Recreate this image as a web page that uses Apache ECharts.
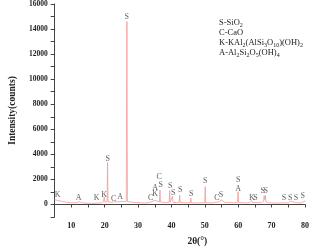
<!DOCTYPE html>
<html>
<head>
<meta charset="utf-8">
<script src="https://cdn.jsdelivr.net/npm/echarts@6/dist/echarts.min.js"></script>
<style>
html,body{margin:0;padding:0;background:#fff}
#chart{width:312px;height:252px}
</style>
</head>
<body>
<div id="chart"></div>
<script>
// diffraction pattern
const twoTheta = [5.0,5.5,6.0,6.5,7.0,8.0,9.0,10.0,11.0,11.8,12.4,13.0,14.0,15.0,16.0,17.0,18.0,19.0,19.6,19.85,
  20.05,20.7,20.85,21.0,22.0,23.0,23.5,24.3,24.9,25.5,26.45,26.64,26.8,27.6,28.0,29.0,29.4,30.0,31.0,32.0,
  33.0,34.0,34.5,35.0,35.5,36.4,36.55,36.7,38.0,39.3,39.47,39.6,40.15,40.3,40.45,41.5,42.3,42.45,42.6,44.0,
  45.65,45.8,45.95,47.5,49.95,50.1,50.25,52.0,53.5,54.0,54.5,54.87,55.3,56.0,57.3,58.5,59.8,59.95,60.1,61.5,
  62.5,63.5,64.0,64.3,65.0,65.5,66.0,67.0,67.6,67.75,67.95,68.15,68.3,69.0,70.5,72.0,73.0,73.45,73.7,75.0,
  75.6,75.9,77.2,77.6,77.9,79.0,79.9,80.0]
const intensity = [380,350,320,290,260,210,170,140,130,150,230,150,110,100,90,90,110,140,220,600,
  200,220,3350,220,170,220,180,200,260,220,250,14600,250,200,170,160,200,150,130,120,
  130,220,180,330,220,200,1150,200,150,180,1100,180,180,650,170,150,180,740,170,130,
  140,500,140,120,140,1420,140,120,180,230,200,370,300,160,170,130,180,1020,180,130,
  120,150,320,150,160,250,150,150,250,700,380,720,230,140,120,110,130,280,130,120,
  270,130,150,240,130,130,280,200]

// phase marks above the peaks
const markX = [5.9,12.2,17.6,19.8,20.9,22.7,24.6,26.6,33.8,35.1,35.1,36.3,36.8,39.6,40.5,42.6,45.9,50.1,
  53.6,54.8,60.0,60.0,64.1,65.2,67.3,68.2,73.7,75.6,77.3,79.3]
const markY = [760,550,550,760,3630,450,570,14980,500,840,1360,2200,1600,1470,900,1150,840,1880,
  500,760,1930,1280,550,550,1100,1100,550,550,550,680]
const markText = ['K','A','K','K','S','C','A','S','C','K','A','C','S','S','S','S','S','S',
  'C','S','S','A','K','S','S','S','S','S','S','S']

const yTicks = [0,2000,4000,6000,8000,10000,12000,14000,16000]
const xTicks = [10,20,30,40,50,60,70,80]

const serif = 'Liberation Serif'
const chart = echarts.init(document.getElementById('chart'))

chart.setOption({
  animation: false,
  title: {
    left: 219,
    top: 18,
    padding: 0,
    text: 'S-SiO{s|2}\nC-CaO\nK-KAl{s|2}(AlSi{s|3}O{s|10})(OH){s|2}\nA-Al{s|2}Si{s|2}O{s|5}(OH){s|4}',
    textStyle: {
      fontFamily: serif,
      fontSize: 8.5,
      fontWeight: 'normal',
      color: '#222',
      lineHeight: 10,
      rich: {
        s: {fontFamily: serif, fontSize: 6, color: '#222', verticalAlign: 'bottom', lineHeight: 8, padding: [3, 0, 0, 0]}
      }
    }
  },
  grid: {left: 40, right: 5, top: 4, bottom: 31},
  xAxis: {
    type: 'value',
    min: 5, max: 80, interval: 5,
    name: '2θ(°)',
    nameLocation: 'middle',
    nameGap: 20,
    nameTextStyle: {fontFamily: serif, fontWeight: 'bold', fontSize: 9.5, color: '#222', padding: [0, 0, 0, 35]},
    axisLine: {lineStyle: {color: '#444', width: 1}},
    axisTick: {length: 3, lineStyle: {color: '#444'}},
    splitLine: {show: false},
    axisLabel: {
      fontFamily: serif, fontWeight: 'bold', fontSize: 8, color: '#222', margin: 5,
      formatter: v => xTicks.includes(v) ? String(v) : ''
    }
  },
  yAxis: {
    type: 'value',
    min: -1000, max: 16000, interval: 1000,
    name: 'Intensity(counts)',
    nameLocation: 'middle',
    nameGap: 33,
    nameTextStyle: {fontFamily: serif, fontWeight: 'bold', fontSize: 9.5, color: '#222'},
    axisLine: {show: true, lineStyle: {color: '#444', width: 1}},
    axisTick: {show: true, length: 4, lineStyle: {color: '#444'}},
    splitLine: {show: false},
    axisLabel: {
      fontFamily: serif, fontWeight: 'bold', fontSize: 7.5, color: '#222', margin: 7,
      formatter: v => yTicks.includes(v) ? String(v) : ''
    }
  },
  series: [
    {
      type: 'line',
      data: twoTheta.map((x, i) => [x, intensity[i]]),
      showSymbol: false,
      lineStyle: {color: '#f29a9a', width: 0.8},
      silent: true
    },
    {
      type: 'scatter',
      symbolSize: 0,
      data: markX.map((x, i) => ({value: [x, markY[i]], name: markText[i]})),
      label: {
        show: true, position: 'inside', formatter: '{b}',
        fontFamily: serif, fontSize: 8, color: '#333'
      },
      silent: true
    }
  ]
})
</script>
</body>
</html>
